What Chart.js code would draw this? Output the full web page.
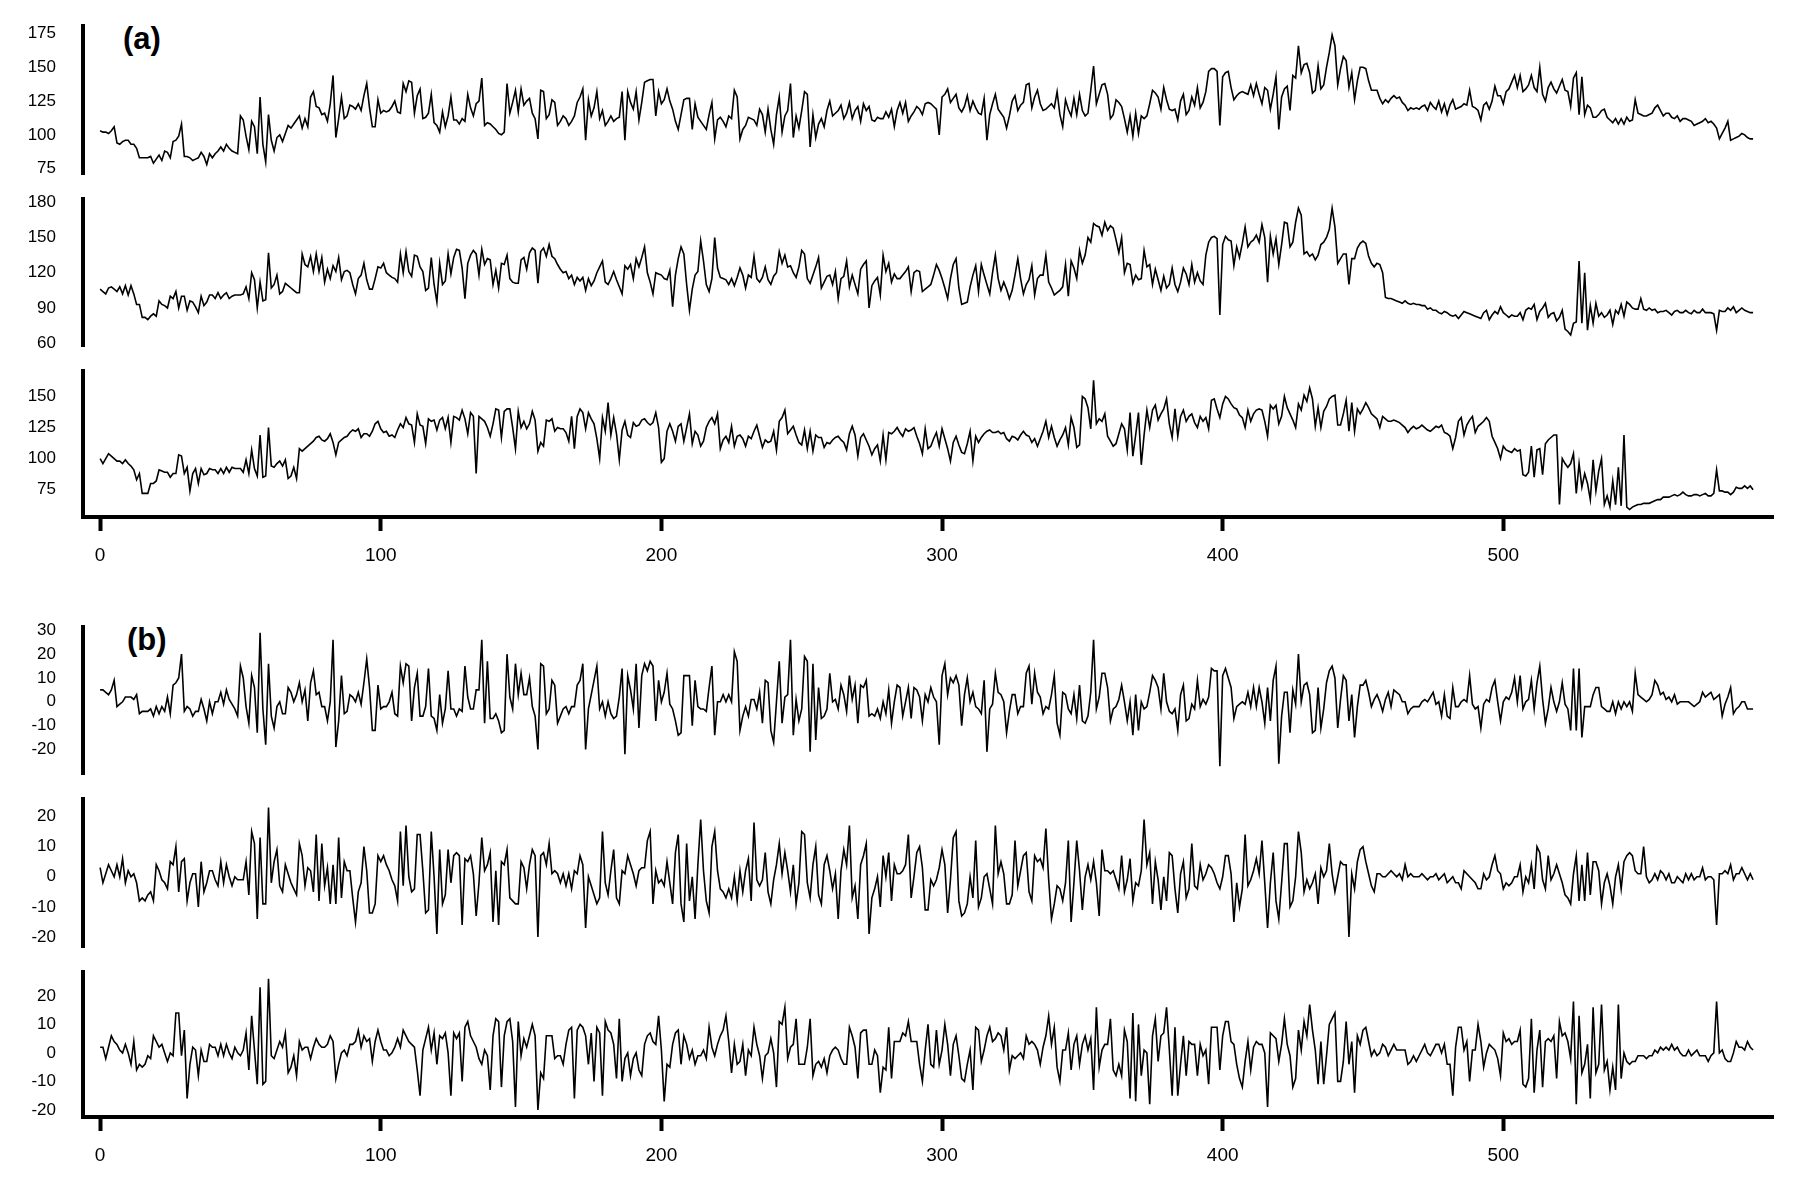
<!DOCTYPE html>
<html><head><meta charset="utf-8">
<script src="https://cdn.jsdelivr.net/npm/chart.js@4.4.1/dist/chart.umd.min.js"></script>
<style>
html,body{margin:0;padding:0;background:#fff;}
body{width:1800px;height:1200px;position:relative;overflow:hidden;font-family:"Liberation Sans",Arial,Helvetica,sans-serif;}
canvas{position:absolute;left:0;}
.tag{position:absolute;font-weight:bold;font-size:31px;line-height:31px;color:#000;font-family:"Liberation Sans",Arial,sans-serif;}
</style></head><body>
<div class="tag" style="left:123px;top:23px">(a)</div>
<div class="tag" style="left:127px;top:624px">(b)</div>
<canvas id="c_a1"></canvas><canvas id="c_a2"></canvas><canvas id="c_a3"></canvas>
<canvas id="c_b1"></canvas><canvas id="c_b2"></canvas><canvas id="c_b3"></canvas>
<script>
const seriesA1 = [
103,102,102,101,103,106,94,93,95,96,
96,93,93,90,83,83,83,83,84,79,
82,85,81,88,87,83,95,96,99,108,
84,84,83,81,82,83,87,84,78,86,
83,86,88,91,88,93,90,88,87,86,
114,111,99,89,110,106,86,128,93,80,
115,96,88,98,100,95,101,107,105,108,
111,114,105,112,106,128,132,121,120,115,
116,110,123,144,98,112,128,112,114,122,
121,119,123,118,129,138,120,106,106,126,
116,118,117,118,121,125,117,116,138,132,
140,139,116,129,134,112,113,116,130,109,
107,102,117,106,114,128,111,111,108,112,
110,130,120,114,123,125,142,107,109,108,
106,104,101,100,102,138,116,124,133,117,
134,122,125,127,116,112,97,133,132,112,
115,126,124,107,110,114,112,107,110,114,
124,128,134,96,126,114,120,132,112,118,
107,110,114,110,112,113,132,96,132,124,
119,132,111,124,139,140,141,141,114,132,
123,126,134,125,119,110,104,115,126,127,
127,104,123,113,110,107,104,115,124,97,
111,113,110,106,114,112,133,128,97,104,
107,113,112,111,107,119,115,102,119,104,
93,115,128,102,114,118,138,98,114,105,
118,132,130,91,115,98,108,112,106,118,
125,114,116,118,122,112,116,124,112,118,
121,110,123,118,121,111,110,113,112,112,
117,113,119,106,118,124,116,124,110,114,
117,121,119,115,123,124,123,121,119,100,
128,130,134,124,127,130,120,117,121,129,
118,125,120,116,115,127,96,115,123,130,
119,116,113,105,114,125,129,118,122,124,
137,138,120,128,133,123,118,119,121,123,
120,132,115,106,126,119,114,127,115,130,
118,114,116,133,151,123,130,137,138,130,
112,115,126,124,121,112,102,114,99,116,
101,114,112,114,123,133,131,128,119,135,
126,119,118,119,111,125,130,115,118,128,
122,135,120,124,132,147,149,149,147,107,
143,146,147,135,126,129,131,132,131,130,
137,129,138,130,123,135,133,119,130,143,
104,128,134,136,118,144,142,166,146,152,
153,146,131,133,151,134,137,150,161,174,
166,137,149,158,155,135,146,126,140,150,
150,149,140,133,133,133,127,123,126,124,
127,129,127,128,124,122,118,120,119,120,
119,121,122,118,124,121,119,125,117,123,
115,122,126,119,120,121,123,122,133,121,
120,118,111,122,124,119,125,136,129,129,
123,132,134,139,144,135,144,132,134,137,
144,135,132,150,130,125,135,139,134,131,
136,141,133,132,121,142,146,115,143,115,
122,120,113,113,115,118,119,113,111,109,
112,108,112,108,113,110,111,126,116,115,
114,114,115,116,120,122,118,114,116,116,
113,112,114,110,112,112,111,110,107,108,
109,110,112,109,110,108,105,97,101,105,
110,96,97,98,99,101,100,98,97,97
];
const seriesA2 = [
106,104,102,107,108,106,104,108,102,109,
101,109,102,93,93,82,82,80,83,85,
83,96,93,92,90,100,98,104,90,100,
100,88,96,95,91,86,100,92,95,101,
101,98,103,98,101,103,98,100,101,101,
101,102,108,98,120,114,90,112,96,97,
137,107,110,118,102,104,111,109,107,105,
103,103,136,127,125,134,121,136,121,133,
112,123,115,126,121,133,114,121,122,120,
110,102,115,118,128,114,106,106,115,125,
124,128,120,118,116,115,112,136,120,138,
121,117,135,134,125,121,105,107,133,110,
95,128,110,113,136,119,133,140,139,124,
98,128,135,139,136,118,140,127,132,131,
110,122,107,128,127,135,115,112,111,111,
131,133,123,137,141,139,111,138,141,134,
144,134,132,127,123,120,121,115,118,110,
116,113,116,105,115,109,113,120,125,130,
112,110,115,121,114,108,102,126,123,127,
115,132,125,133,142,120,112,102,120,119,
118,115,114,122,91,118,132,142,136,110,
88,106,118,121,147,130,110,104,115,150,
124,116,115,114,110,115,109,116,124,118,
107,118,116,134,115,112,116,125,114,110,
117,120,138,128,135,125,126,120,116,125,
139,136,115,111,118,125,133,107,112,117,
118,110,121,98,115,117,130,108,118,110,
102,123,127,130,90,109,113,116,101,135,
121,128,112,119,115,115,118,121,125,104,
120,122,121,104,106,108,110,118,127,122,
115,107,98,115,127,132,107,93,94,95,
108,118,126,104,127,118,110,102,120,135,
115,105,112,106,98,105,118,132,115,102,
110,114,126,101,115,118,118,135,112,107,
101,103,105,108,127,100,130,124,115,139,
128,135,150,146,162,160,159,152,163,156,
160,158,148,137,150,120,128,127,111,118,
114,115,139,125,127,110,123,114,105,117,
107,110,124,110,104,112,124,119,110,127,
112,120,113,110,135,146,150,151,149,84,
144,151,148,147,126,142,133,145,159,142,
146,148,152,146,161,150,112,151,136,149,
127,144,163,162,142,146,163,175,169,136,
138,134,136,131,135,144,146,150,157,175,
159,128,132,136,136,110,132,132,141,145,
147,145,134,128,125,128,127,120,99,98,
98,97,96,95,94,96,94,93,94,93,
93,92,92,89,90,88,88,86,85,87,
86,84,83,84,81,84,87,86,85,84,
83,82,81,86,88,80,84,87,85,91,
86,84,82,84,83,83,86,80,88,90,
89,93,80,87,90,94,82,85,86,79,
82,88,72,70,67,77,78,130,77,120,
71,92,77,94,83,86,82,84,88,76,
88,85,93,83,95,93,90,89,89,98,
89,88,90,88,89,86,87,87,88,86,
84,87,88,86,86,88,86,85,88,86,
86,89,86,86,86,85,71,88,87,87,
90,88,91,86,88,90,88,87,86,86
];
const seriesA3 = [
100,96,100,104,102,100,98,98,96,99,
96,94,91,83,88,72,72,72,80,80,
82,91,90,89,89,85,88,88,103,102,
88,93,74,88,92,80,92,87,88,92,
91,91,88,92,88,93,89,93,92,92,
92,89,99,88,107,92,86,119,85,86,
125,94,93,96,98,94,99,84,86,93,
84,108,106,108,110,112,114,117,118,115,
114,116,120,113,103,113,115,117,118,121,
123,122,124,117,120,120,118,122,128,130,
124,121,122,118,119,117,123,128,125,133,
128,127,113,136,127,126,112,132,130,131,
123,131,133,124,133,113,134,133,131,139,
132,120,137,134,88,134,132,130,125,118,
128,140,139,117,138,140,140,125,108,138,
125,130,124,128,138,131,106,113,110,131,
130,132,122,125,124,124,121,114,134,108,
134,140,137,124,137,132,128,116,100,133,
122,145,119,133,120,99,123,130,119,117,
129,126,127,131,132,129,127,129,137,125,
97,100,122,128,122,114,126,128,114,125,
136,112,122,119,110,114,125,130,133,128,
136,108,115,118,113,126,110,118,119,116,
110,118,116,122,127,118,109,115,113,114,
122,107,130,133,139,120,123,126,119,113,
111,123,108,122,106,119,117,117,109,113,
112,115,117,118,115,113,107,120,126,119,
102,117,120,115,110,103,108,111,98,119,
99,121,120,122,125,121,118,124,122,123,
125,118,112,104,124,108,110,116,121,110,
124,116,108,98,113,118,111,105,104,112,
122,98,118,113,117,120,122,123,121,121,
122,120,121,116,114,118,117,115,119,122,
119,118,113,116,110,116,122,130,117,126,
117,110,115,119,125,111,133,125,109,111,
150,148,141,124,163,128,132,130,136,118,
114,110,112,120,128,124,107,137,102,119,
137,95,119,139,125,139,143,131,136,140,
148,128,117,140,118,134,139,130,134,136,
129,125,134,130,133,124,147,148,140,133,
144,150,148,144,141,140,135,133,125,139,
130,136,139,140,139,130,118,143,140,143,
128,134,150,141,136,131,125,144,139,151,
146,157,148,126,141,125,138,142,148,150,
151,127,127,136,147,122,145,122,140,136,
140,145,141,136,134,132,125,134,132,130,
130,131,130,129,127,125,121,124,126,124,
125,127,125,123,122,124,126,125,127,121,
120,118,108,117,130,133,119,127,131,134,
121,126,128,130,133,130,118,113,108,100,
110,107,106,105,108,106,107,87,86,89,
110,85,107,108,87,112,115,117,119,119,
63,100,96,93,96,104,72,96,77,88,
80,67,99,74,90,100,63,70,61,82,
63,93,62,119,61,59,61,62,63,63,
64,64,64,65,66,67,67,69,69,69,
70,71,70,71,73,71,70,70,71,71,
70,71,72,70,70,72,91,74,74,73,
73,71,73,77,76,76,78,76,78,75
];
const seriesB1 = [
5,5,4,3,5,9,-2,-1,0,2,
2,2,1,3,-5,-4,-4,-4,-3,-6,
-2,-5,-2,-4,2,-5,7,8,10,20,
-4,-2,-3,-6,-4,-4,1,-3,-8,0,
-5,0,0,4,-1,5,1,-1,-3,-6,
15,10,-2,-9,11,6,-13,29,-3,-18,
16,-6,-11,-2,0,-5,-5,6,4,0,
3,8,0,5,-8,8,13,3,4,-2,
-2,-8,0,26,-19,-8,11,-5,-4,3,
2,0,4,-1,8,18,6,-12,-12,7,
-3,-2,-2,0,4,-5,-6,15,8,16,
15,-8,6,12,-6,-6,-2,14,-6,-7,
-12,3,-9,-3,13,-3,-3,-6,-3,-4,
15,2,-3,-3,5,5,26,-9,17,-7,
-7,-5,-8,-13,-12,20,2,-3,16,3,
12,3,3,10,-2,-6,-20,16,15,-5,
-3,9,7,-9,-6,-3,-2,-5,-2,-2,
7,9,16,-20,-3,3,9,15,-3,0,
-6,0,-5,-7,-6,2,14,-22,11,5,
-3,16,-11,11,16,13,17,15,-8,9,
0,4,12,-1,-3,-8,-14,-13,11,11,
11,-10,9,-2,-3,-3,-4,6,15,-14,
0,0,3,0,3,0,21,17,-12,-6,
-2,-6,1,1,-3,4,-9,9,8,-12,
-17,0,17,-9,2,3,26,-14,1,-8,
-3,19,17,-21,16,-16,6,-7,-6,-3,
12,0,1,-3,7,3,-4,11,1,7,
-9,7,6,9,-6,-5,-6,-3,-7,0,
-5,5,-9,0,7,6,-6,0,6,-7,
6,5,2,-8,3,0,6,2,0,-18,
11,16,3,10,8,11,7,-10,3,10,
0,4,-2,-3,-5,9,-21,-3,-1,12,
4,3,0,-13,-4,3,3,-5,-2,-2,
12,15,-1,12,4,2,-5,-2,-3,3,
11,-9,-14,4,3,-3,-5,3,-7,7,
-8,-9,-6,4,26,-3,2,12,12,6,
-8,-3,-2,1,7,0,-8,0,-14,3,
-12,0,-3,-2,4,11,9,6,-3,12,
0,-4,-5,-3,-12,3,7,-8,-7,-1,
-3,9,-2,1,-1,2,14,13,13,-27,
11,14,10,6,-7,-2,-1,0,-1,4,
-2,6,-2,6,0,-9,6,-8,9,15,
-26,-6,4,4,-13,5,-1,20,0,7,
8,3,-13,-12,6,-11,-3,8,13,15,
10,-11,1,11,9,-8,3,-15,-2,7,
7,9,4,-2,1,3,0,-4,1,4,
-2,5,4,3,0,0,-5,-3,-2,-2,
-2,0,1,0,2,4,-1,0,-6,3,
-6,-7,6,-2,-2,0,1,0,11,-1,
-3,-2,-11,-1,1,0,6,9,0,-8,
0,2,1,4,10,0,11,-3,0,1,
9,-3,8,15,1,-9,-3,6,0,-4,
0,8,-1,-3,-12,14,-12,14,-15,-2,
-2,-2,3,6,6,-2,-3,-4,-4,0,
-5,0,-3,0,-2,0,-4,12,3,2,
1,0,1,3,9,7,3,4,1,2,
0,3,-1,0,0,0,0,-1,-2,-1,
0,4,2,3,4,1,2,3,-6,-1,
2,6,-5,-3,-2,0,0,-3,-3,-3
];
const seriesB2 = [
3,-2,1,4,2,0,4,0,6,-2,
2,0,1,-2,-8,-7,-8,-6,-5,-8,
4,2,-1,-2,-4,5,4,10,-5,5,
6,-8,-2,1,1,-10,5,-5,-2,2,
2,-1,-3,5,-2,4,0,-3,0,-1,
-1,-1,5,-6,15,11,-14,13,-9,-9,
23,-2,5,9,-3,-5,4,1,-2,-4,
-6,11,7,-3,3,2,-5,14,-8,11,
-3,3,-9,4,-9,13,-7,5,2,2,
-7,-15,-5,-2,10,2,-12,-12,-9,7,
5,7,4,2,-1,-3,-8,15,-3,17,
0,-5,-4,14,14,2,-12,-11,15,0,
-19,9,-9,-6,9,-2,7,8,7,-16,
6,5,7,1,-13,-2,13,2,4,8,
-15,2,-16,5,4,9,-7,-8,-9,-9,
5,3,-4,4,9,7,-20,7,8,4,
11,1,2,1,-2,1,-3,1,-4,2,
1,7,4,-17,0,-3,-6,-9,-7,15,
-2,-6,2,9,-7,-9,2,1,7,4,
1,-3,2,3,3,12,15,-9,2,-2,
-1,-3,5,-2,-9,8,14,-9,-15,11,
-8,0,-14,4,19,2,-8,-12,10,15,
2,-4,-5,-7,-4,-7,0,-8,2,-5,
2,6,-8,18,-1,-3,-1,8,-5,-9,
-1,4,11,1,8,2,-5,4,-9,-2,
15,14,-2,-7,4,10,-6,-9,4,7,
2,-4,1,-14,2,9,4,17,-7,-3,
-14,4,7,11,-19,-7,-4,0,-10,7,
0,8,-8,4,1,1,2,4,14,-7,
0,8,10,3,-11,-11,-1,-3,-1,3,
9,4,-12,-1,13,15,-8,-13,-12,-9,
0,-7,12,-10,-7,0,1,-4,-9,17,
1,5,1,-9,-9,-6,12,-3,2,7,
8,-5,-8,7,5,6,3,16,-1,-14,
-9,-3,-4,-8,-2,12,-15,-2,12,2,
-11,0,4,-1,5,-2,-13,9,2,2,
1,2,-1,-4,7,-5,-1,6,-8,-2,
-3,2,19,4,8,-9,5,-1,-11,0,
-8,8,7,-4,-12,1,5,-7,-4,11,
-3,-4,4,-1,1,4,3,1,-2,-4,
0,7,7,1,-15,-2,-10,-4,14,-3,
-1,2,6,1,12,-2,-17,-2,8,-8,
-14,-2,11,11,-10,-8,0,15,8,-5,
-1,-4,-2,1,-9,3,0,2,11,1,
-5,0,5,4,4,-20,1,-4,5,9,
10,5,1,-3,-5,1,1,0,0,1,
2,1,0,1,-1,4,0,1,0,0,
0,1,0,-1,0,0,1,-1,0,1,
-2,-1,0,-2,-2,-4,2,1,0,-1,
-2,-4,-4,1,-1,0,4,7,2,1,
-4,-2,-3,-2,0,0,4,-5,0,-2,
4,-4,10,8,-1,-4,7,-1,1,4,
1,-2,-6,-7,-9,1,7,-8,4,-8,
8,-6,5,5,2,-9,-2,1,-3,-9,
0,4,-4,5,7,8,7,2,1,1,
10,0,-2,-1,1,-1,2,1,-1,1,
-2,-2,0,-1,-2,1,-1,1,-1,0,
0,3,-1,0,0,-1,-16,1,1,2,
1,4,-1,1,1,3,1,-1,1,-1
];
const seriesB3 = [
2,2,-2,2,6,4,3,1,0,3,
0,-4,4,-6,-4,-5,-4,-1,-2,6,
4,2,3,0,-3,0,-1,14,14,-1,
8,-16,-4,2,1,-8,1,-3,-3,3,
2,2,-1,3,-1,3,0,-2,2,0,
-1,1,7,-6,13,1,-11,23,-11,-10,
26,-1,-2,1,4,2,7,-7,-5,-1,
-8,4,1,2,2,-2,2,5,3,2,
2,3,6,4,-9,-4,0,1,-1,3,
3,4,8,2,6,4,5,-3,4,8,
4,1,1,-1,0,2,5,2,8,6,
4,3,2,-6,-15,1,5,9,1,7,
-4,6,5,7,0,-15,7,5,7,-10,
9,11,6,4,2,-2,-4,1,-1,-13,
6,12,11,-12,6,11,12,4,-19,11,
-1,5,2,6,10,6,-20,-7,-9,6,
6,6,-2,-1,-1,-4,3,8,9,-16,
8,10,9,6,-4,7,-10,9,7,-15,
11,8,7,3,-9,12,-10,-2,0,-8,
-2,0,-6,-8,3,6,7,4,3,13,
1,-17,-4,-5,3,7,8,-4,6,3,
-2,1,-4,-1,-1,1,-2,9,2,-1,
3,6,8,13,4,-7,3,-4,-3,3,
-8,1,-1,9,3,-1,-9,-1,0,5,
0,-12,11,10,16,-2,2,3,12,-4,
-4,-4,2,12,-8,-4,-3,-5,-2,-7,
-1,1,2,1,-2,-4,-4,9,6,2,
-9,7,8,8,-4,-4,1,-1,-14,-5,
-6,9,-9,4,4,4,7,6,11,4,
4,4,-4,-10,1,10,-4,-5,8,-4,
1,10,3,-8,3,6,-1,-9,-10,-4,
1,-13,9,8,-3,1,6,9,4,5,
7,6,1,9,-6,-1,-2,-1,0,-2,
6,3,4,3,1,-4,2,6,13,3,
9,-5,-10,1,1,7,-6,3,6,-4,
3,6,1,5,-13,16,-5,1,3,3,
12,-6,-8,-4,-8,8,4,-16,14,-17,
10,-8,1,0,-18,6,12,-3,6,7,
16,1,-15,9,-15,-4,6,-8,4,3,
3,-8,3,-1,1,-11,9,9,9,-6,
6,11,11,4,3,-4,-9,-12,-3,4,
-6,2,4,3,3,0,-19,7,6,5,
-3,3,12,3,-1,-12,-9,8,1,11,
6,17,8,1,-11,4,-11,-1,10,12,
14,-10,-10,-3,11,-4,4,-14,6,3,
8,9,4,-1,1,-1,0,3,2,-1,
1,3,1,1,1,1,-4,-3,-1,-3,
-1,1,3,0,-1,1,3,3,0,3,
-4,-4,-15,2,9,9,1,4,-10,1,
1,10,4,-5,0,3,2,1,-2,-8,
7,4,5,3,4,4,8,-11,-12,-9,
12,-14,1,8,-12,4,5,4,6,-9,
11,6,7,4,-2,18,-18,13,-7,-4,
3,-16,16,-7,-4,17,-6,-3,-13,-5,
-13,17,-9,0,-3,-4,-3,-3,-1,-1,
-1,-2,-1,-1,1,0,2,1,2,1,
3,1,2,0,-1,-1,1,-1,0,1,
-1,-1,-1,-3,-1,0,18,0,1,-2,
-3,-3,0,4,2,2,1,4,2,1
];

const yTicksA1 = [75, 100, 125, 150, 175];
const yTicksA2 = [60, 90, 120, 150, 180];
const yTicksA3 = [75, 100, 125, 150];
const yTicksB1 = [-20, -10, 0, 10, 20, 30];
const yTicksB2 = [-20, -10, 0, 10, 20];
const yTicksB3 = [-20, -10, 0, 10, 20];
const xTicks = [0, 100, 200, 300, 400, 500];

Chart.defaults.font.family = "'Liberation Sans', Arial, Helvetica, sans-serif";
Chart.defaults.color = '#000';

const panels = [
  {id: 'c_a1', data: seriesA1, min: 71,    max: 180.6, ticks: yTicksA1, top: 26,  bottom: 174,  showX: false},
  {id: 'c_a2', data: seriesA2, min: 57.6,  max: 182.8, ticks: yTicksA2, top: 199, bottom: 346,  showX: false},
  {id: 'c_a3', data: seriesA3, min: 53,    max: 170.5, ticks: yTicksA3, top: 371, bottom: 517,  showX: true},
  {id: 'c_b1', data: seriesB1, min: -30.3, max: 31.4,  ticks: yTicksB1, top: 627, bottom: 774,  showX: false},
  {id: 'c_b2', data: seriesB2, min: -23.3, max: 25.8,  ticks: yTicksB2, top: 799, bottom: 947,  showX: false},
  {id: 'c_b3', data: seriesB3, min: -22.5, max: 28.4,  ticks: yTicksB3, top: 972, bottom: 1117, showX: true}
];

function makePanel(p) {
  const padTop = 12, padBottom = 12, xAxisH = 62;
  const h = (p.bottom - p.top) + padTop + (p.showX ? xAxisH : padBottom);
  const canvas = document.getElementById(p.id);
  canvas.width = 1800; canvas.height = h;
  canvas.style.width = '1800px'; canvas.style.height = h + 'px';
  canvas.style.top = (p.top - padTop) + 'px';
  const pts = p.data.map((v, i) => ({x: i, y: v}));
  new Chart(canvas, {
    type: 'line',
    data: {datasets: [{data: pts, borderColor: '#000', borderWidth: 1.6, pointRadius: 0, pointHoverRadius: 0, fill: false, tension: 0}]},
    options: {
      responsive: false, animation: false, devicePixelRatio: 1,
      events: [],
      layout: {padding: {left: 0, right: 27, top: padTop, bottom: p.showX ? 0 : padBottom}},
      plugins: {legend: {display: false}, tooltip: {enabled: false}},
      scales: {
        x: {
          type: 'linear', min: -6.1, max: 596.1, display: p.showX,
          afterFit: s => { s.height = p.showX ? xAxisH : 0; },
          afterBuildTicks: s => { s.ticks = xTicks.map(v => ({value: v})); },
          grid: {display: true, drawOnChartArea: false, drawTicks: true, tickLength: 14, tickWidth: 4, tickColor: '#000'},
          border: {display: true, color: '#000', width: 4},
          ticks: {color: '#000', font: {size: 19}, padding: 13, maxRotation: 0, autoSkip: false}
        },
        y: {
          type: 'linear', min: p.min, max: p.max,
          afterFit: s => { s.width = 83; },
          afterBuildTicks: s => { s.ticks = p.ticks.map(v => ({value: v})); },
          grid: {display: false, drawTicks: true, tickLength: 27},
          border: {display: true, color: '#000', width: 4},
          ticks: {color: '#000', font: {size: 17}, padding: 0, autoSkip: false}
        }
      }
    }
  });
}
panels.forEach(makePanel);
</script>
</body></html>
